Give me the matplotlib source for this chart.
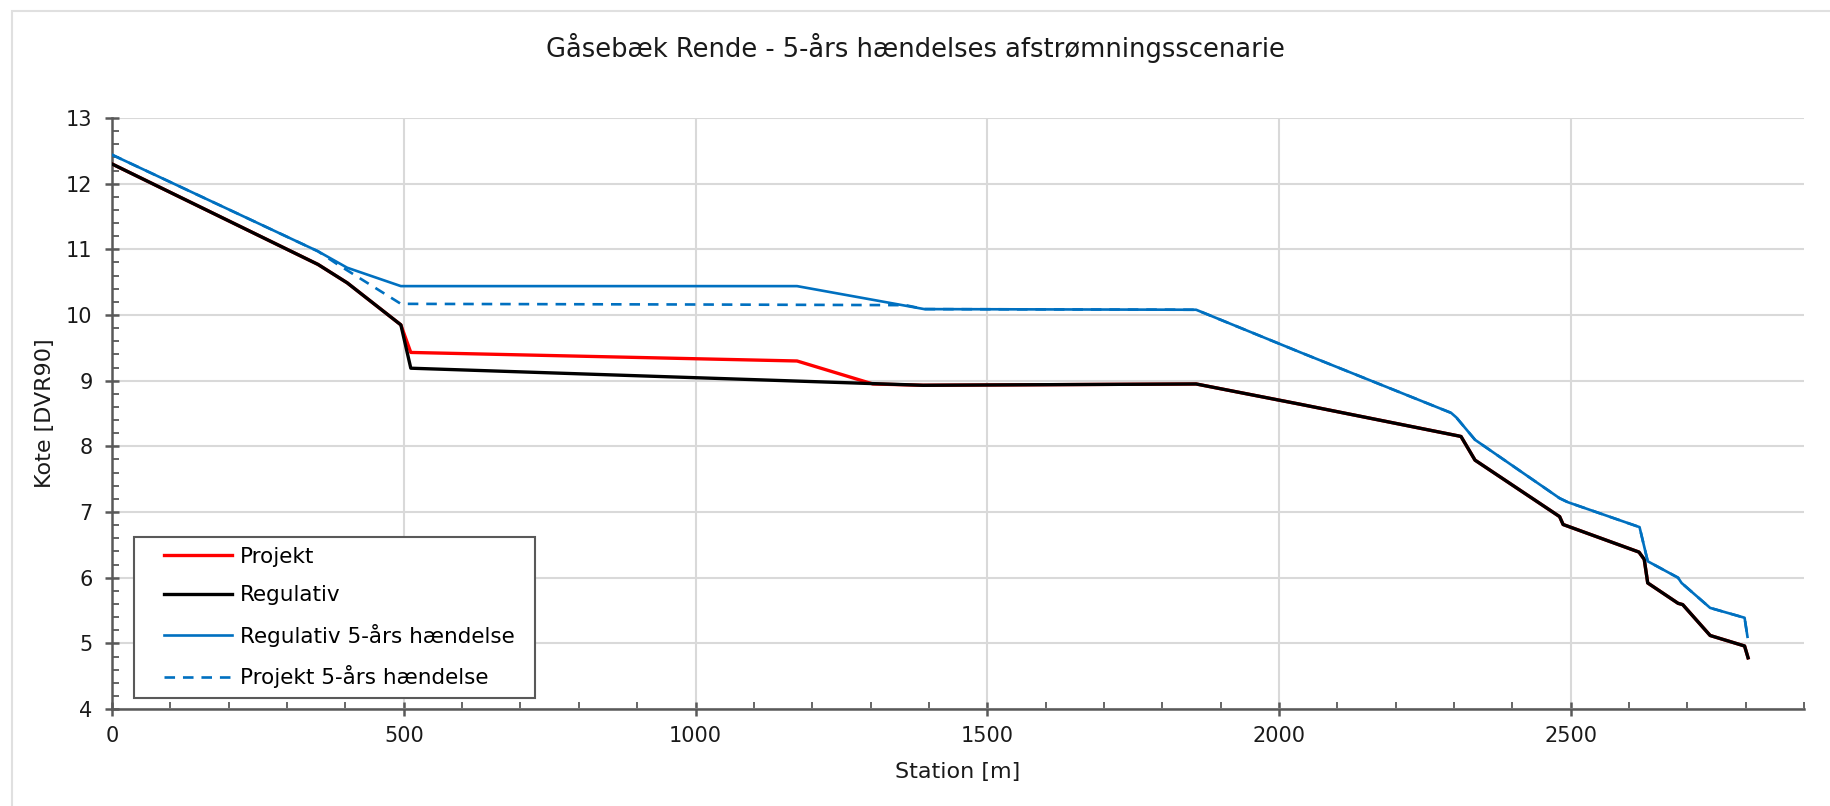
import matplotlib
matplotlib.use("Agg")
import matplotlib.pyplot as plt
from matplotlib.ticker import MultipleLocator
from matplotlib.patches import Rectangle
from matplotlib.lines import Line2D
from matplotlib.legend_handler import HandlerLine2D

# Regulativ (bed level)
reg_x = [0, 353, 403, 495, 512, 1390, 1858, 2037, 2307, 2312, 2336, 2481, 2487,
         2617, 2626, 2632, 2684, 2692, 2739, 2798, 2804]
reg_y = [12.30, 10.77, 10.49, 9.85, 9.19, 8.93, 8.95, 8.64, 8.16, 8.15, 7.79, 6.93, 6.81,
         6.39, 6.28, 5.92, 5.61, 5.59, 5.12, 4.96, 4.78]

# Projekt (bed level)
proj_x = [0, 353, 403, 495, 512, 1174, 1304, 1390, 1858, 2037, 2307, 2312, 2336, 2481, 2487,
          2617, 2626, 2632, 2684, 2692, 2739, 2798, 2804]
proj_y = [12.30, 10.77, 10.49, 9.85, 9.43, 9.30, 8.95, 8.93, 8.95, 8.64, 8.16, 8.15, 7.79, 6.93, 6.81,
          6.39, 6.28, 5.92, 5.61, 5.59, 5.12, 4.96, 4.78]

# Regulativ 5-års hændelse (water level)
reg5_x = [0, 353, 403, 495, 1174, 1392, 1858, 2037, 2295, 2304, 2336, 2481, 2495,
          2618, 2632, 2684, 2690, 2739, 2798, 2803]
reg5_y = [12.44, 10.97, 10.72, 10.44, 10.44, 10.09, 10.08, 9.43, 8.51, 8.44, 8.10, 7.21, 7.15,
          6.77, 6.25, 6.00, 5.92, 5.54, 5.39, 5.10]

# Projekt 5-års hændelse (water level)
proj5_x = [0, 353, 385, 495, 1000, 1360, 1392, 1858, 2037, 2295, 2304, 2336, 2481, 2495,
           2618, 2632, 2684, 2690, 2739, 2798, 2803]
proj5_y = [12.44, 10.97, 10.78, 10.17, 10.16, 10.15, 10.09, 10.08, 9.43, 8.51, 8.44, 8.10, 7.21, 7.15,
           6.77, 6.25, 6.00, 5.92, 5.54, 5.39, 5.10]

title = "Gåsebæk Rende - 5-års hændelses afstrømningsscenarie"

plt.rcParams['font.family'] = ['DejaVu Sans']
txt = "#1a1a1a"

fig = plt.figure(figsize=(18.31, 8.06), dpi=100)
fig.patches.append(Rectangle((0.0065, -0.01), 1.0, 0.996, transform=fig.transFigure,
                             fill=False, edgecolor="#E0E0E0", linewidth=1.5))
ax = fig.add_axes([0.0612, 0.1203, 0.9241, 0.7333])

ax.plot(proj_x, proj_y, color="#FF0000", lw=2.4, label="Projekt", zorder=3)
ax.plot(reg_x, reg_y, color="#000000", lw=2.4, label="Regulativ", zorder=4)
ax.plot(reg5_x, reg5_y, color="#0070C0", lw=1.9, label="Regulativ 5-års hændelse", zorder=5)
ax.plot(proj5_x, proj5_y, color="#0070C0", lw=1.9, ls=(0, (4, 3)), label="Projekt 5-års hændelse", zorder=6)

ax.set_xlim(0, 2900)
ax.set_ylim(4, 13)
ax.xaxis.set_major_locator(MultipleLocator(500))
ax.xaxis.set_minor_locator(MultipleLocator(100))
ax.yaxis.set_major_locator(MultipleLocator(1))
ax.yaxis.set_minor_locator(MultipleLocator(0.2))

for s in ["top", "right"]:
    ax.spines[s].set_visible(False)
for s in ["left", "bottom"]:
    ax.spines[s].set_color("#595959")
    ax.spines[s].set_linewidth(1.8)

ax.tick_params(which="major", direction="inout", length=10, width=1.8, color="#595959",
               labelsize=15, labelcolor=txt)
ax.tick_params(axis="y", which="major", pad=9)
ax.tick_params(axis="x", which="major", pad=7)
ax.tick_params(which="minor", direction="in", length=5, width=1.3, color="#595959")
ax.grid(which="major", color="#D9D9D9", linewidth=1.5, zorder=0)
ax.set_axisbelow(True)

ax.set_xlabel("Station [m]", fontsize=16, color=txt, labelpad=12)
ax.set_ylabel("Kote [DVR90]", fontsize=16, color=txt, labelpad=8)
fig.text(0.5, 0.94, title, ha="center", va="center", fontsize=18.5, color=txt)

leg = ax.legend(loc="lower left", bbox_to_anchor=(0.013, 0.019, 0.237, 0.2), mode="expand",
                borderaxespad=0, fontsize=15.5, handlelength=4.1, labelspacing=0.86,
                handletextpad=0.35, borderpad=0.45, fancybox=False, framealpha=1,
                handler_map={Line2D: HandlerLine2D(xpad=0.95)})
leg.get_frame().set_edgecolor("#595959")
leg.get_frame().set_linewidth(1.5)
leg.set_zorder(10)

fig.savefig("out.png", dpi=100)
